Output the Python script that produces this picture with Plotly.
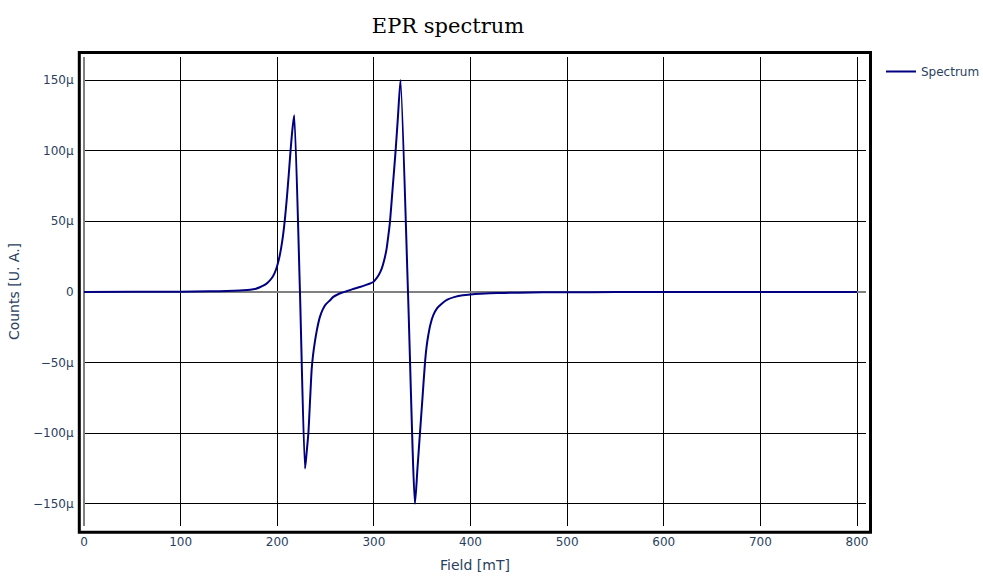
import numpy as np
import plotly.graph_objects as go

# Field values [mT]
field = [0, 50, 100, 130, 140, 155, 165, 172, 178, 182, 186, 190, 194, 197, 199.5,
         202, 204, 206, 208, 210, 212, 214, 216, 217.6,
         223.5, 228.7, 230.5, 232.2, 234, 235.6, 237, 239, 241, 244, 247, 250,
         254.6, 258, 262, 266, 271.8, 278, 285.6, 292, 296, 299.4,
         301.2, 305, 308.1, 310.5, 313.2, 315, 316.7, 319.6, 322.5, 325, 327.6,
         335.3, 342.5, 345.1, 347.7, 350.3, 352.9, 354.5, 356.3, 358.5, 361.5,
         365.5, 370.2, 376, 383.9, 392, 400, 410, 420, 435, 450, 475, 500, 550,
         600, 700, 800]

# Counts in micro-units
counts_u = [0.0, 0.05, 0.2, 0.4, 0.5, 0.8, 1.1, 1.5, 2.3, 3.3, 4.6, 6.5, 9.5, 13.0, 17.5,
            24.0, 31.0, 40.0, 52.0, 67.0, 84.0, 102.0, 117.0, 125.0,
            0.0, -125.0, -113.0, -100.0, -76.0, -55.0, -45.0, -35.0, -27.0, -18.0, -12.5, -9.0,
            -5.9, -3.5, -2.0, -0.8, 0.5, 2.0, 3.5, 5.0, 6.0, 7.0,
            8.3, 12.0, 16.5, 22.0, 30.7, 40.0, 50.0, 75.0, 100.0, 125.0, 150.0,
            0.0, -150.0, -125.0, -100.0, -75.0, -50.0, -39.0, -30.7, -23.0, -16.5,
            -11.5, -8.3, -5.5, -3.5, -2.4, -1.8, -1.3, -1.0, -0.7, -0.5, -0.3, -0.2, -0.1,
            -0.05, -0.02, 0.0]

counts = np.array(counts_u) * 1e-6

fig = go.Figure()
fig.add_trace(go.Scatter(x=field, y=counts, mode="lines", name="Spectrum",
                         line=dict(color="#000080", width=2, shape="spline", smoothing=0.6)))

font_color = "#2a3f5f"
W, H = 983, 584
L, R, T, B = 84, 117, 57, 58
pw, ph = W - L - R, H - T - B

fig.update_layout(
    width=W, height=H,
    template="none",
    paper_bgcolor="white", plot_bgcolor="white",
    font=dict(family="Verdana, 'DejaVu Sans', sans-serif", size=12, color=font_color),
    title=dict(text="EPR spectrum", x=448 / W, xanchor="center", y=1 - 26 / H, yanchor="middle",
               font=dict(family="Georgia, 'DejaVu Serif', serif", size=21, color="black")),
    margin=dict(l=L, r=R, t=T, b=B),
    showlegend=True,
    legend=dict(xref="container", yref="container", x=881 / W, xanchor="left",
                y=1 - 57 / H, yanchor="top", font=dict(size=12, color=font_color)),
    shapes=[dict(type="rect", xref="paper", yref="paper",
                 x0=-4.7 / pw, x1=1 + 4.5 / pw, y0=-6.2 / ph, y1=1 + 4.5 / ph,
                 line=dict(color="black", width=3), fillcolor="rgba(0,0,0,0)", layer="above")],
)
fig.update_xaxes(range=[0, 809.3], dtick=100, showgrid=True, gridcolor="black", gridwidth=1,
                 zeroline=True, zerolinecolor="grey", zerolinewidth=2,
                 showline=False, ticks="outside", ticklen=5, tickcolor="rgba(0,0,0,0)",
                 automargin=True,
                 title=dict(text="Field [mT]", standoff=11, font=dict(size=14, color=font_color)))
fig.update_yaxes(range=[-165.7e-6, 166.3e-6], dtick=50e-6, exponentformat="SI",
                 showgrid=True, gridcolor="black", gridwidth=1,
                 zeroline=True, zerolinecolor="grey", zerolinewidth=2,
                 showline=False, ticks="outside", ticklen=7, tickcolor="rgba(0,0,0,0)",
                 automargin=True,
                 title=dict(text="Counts [U. A.]", standoff=10, font=dict(size=14, color=font_color)))

fig.write_html("out.html", config={"displayModeBar": False},
               post_script="document.body.style.margin='0px';")
